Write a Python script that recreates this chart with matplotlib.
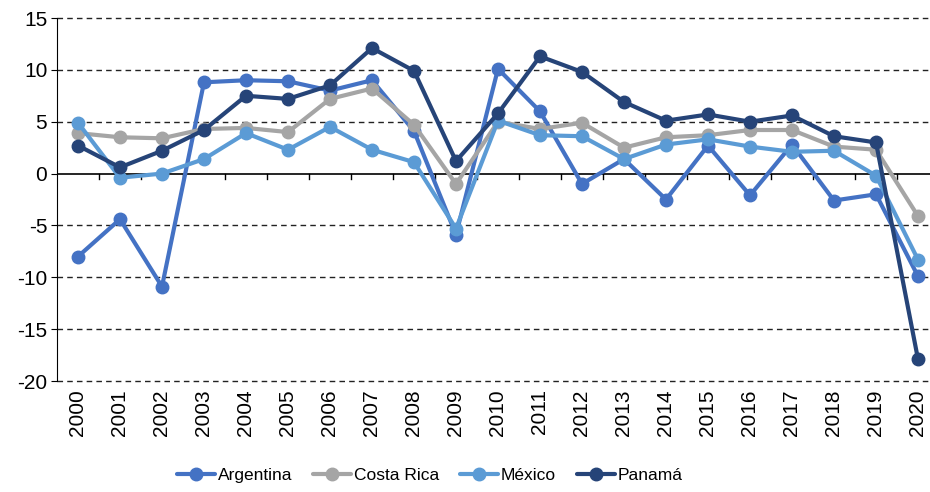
import numpy as np
import matplotlib.pyplot as plt

plt.rcParams['font.family'] = ['Liberation Sans', 'DejaVu Sans']
plt.rcParams['axes.unicode_minus'] = False

years = list(range(2000, 2021))
argentina = [-8.0, -4.4, -10.9, 8.8, 9.0, 8.9, 8.0, 9.0, 4.1, -5.9, 10.1,
             6.0, -1.0, 1.4, -2.5, 2.7, -2.1, 2.8, -2.6, -2.0, -9.9]
costa_rica = [3.9, 3.5, 3.4, 4.3, 4.4, 4.0, 7.2, 8.2, 4.7, -1.0, 5.0,
              4.3, 4.9, 2.5, 3.5, 3.7, 4.2, 4.2, 2.6, 2.3, -4.1]
mexico = [4.9, -0.4, 0.0, 1.4, 3.9, 2.3, 4.5, 2.3, 1.1, -5.3, 5.1,
          3.7, 3.6, 1.4, 2.8, 3.3, 2.6, 2.1, 2.2, -0.2, -8.3]
panama = [2.7, 0.6, 2.2, 4.2, 7.5, 7.2, 8.5, 12.1, 9.9, 1.2, 5.8,
          11.3, 9.8, 6.9, 5.1, 5.7, 5.0, 5.6, 3.6, 3.0, -17.9]

series = [("Argentina", argentina, "#4472C4"),
          ("Costa Rica", costa_rica, "#A5A5A5"),
          ("México", mexico, "#5B9BD5"),
          ("Panamá", panama, "#264478")]

fig = plt.figure(figsize=(9.3, 4.92), dpi=100)
# axes spans past the right edge like the original
ax = fig.add_axes([57 / 930, 1 - 381 / 492, 882 / 930, 363 / 492])

yticks = np.arange(-20, 16, 5)
for yv in yticks:
    if yv != 0:
        ax.axhline(yv, linestyle=(0, (4, 3)), color='#222222', lw=1,
                   zorder=0.5, clip_on=False)

for name, vals, col in series:
    ax.plot(years, vals, color=col, lw=3, marker='o', markersize=9,
            label=name, solid_capstyle='round', clip_on=False)

ax.set_xlim(1999.5, 2020.5)
ax.set_ylim(-20, 15)
ax.set_yticks(yticks)

for s in ['top', 'right', 'bottom']:
    ax.spines[s].set_visible(False)
ax.spines['left'].set_color('black')

# year axis drawn at y=0, with labels at the bottom
ax.axhline(0, color='black', lw=1.2, zorder=1.5)
for b in np.arange(2000.5, 2020, 1):
    ax.plot([b, b], [0, -0.55], color='black', lw=1, zorder=1.5)
ax.set_xticks(years)
ax.set_xticklabels([str(y) for y in years], rotation=90, fontsize=15)
ax.tick_params(axis='x', length=0, pad=6)
ax.tick_params(axis='y', labelsize=15, length=4, direction='out', pad=3)

fig.legend(loc='center', bbox_to_anchor=(0.462, 0.033), ncol=4, frameon=False,
           fontsize=12.5, handlelength=2.2, columnspacing=1.2, handletextpad=0.15)

fig.savefig('out.png', dpi=100, facecolor='white')
